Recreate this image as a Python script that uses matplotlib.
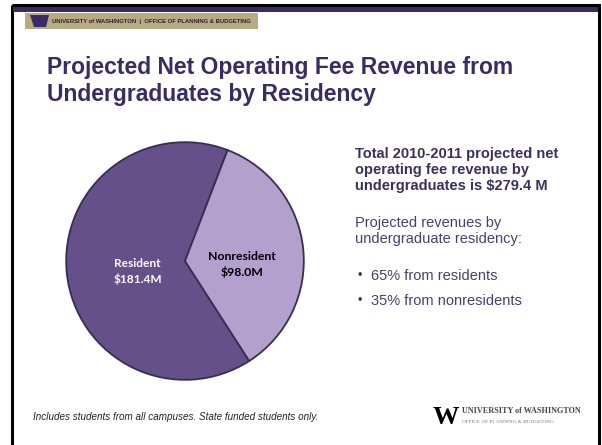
import matplotlib.pyplot as plt
from matplotlib.patches import Rectangle, Polygon

# data
categories = ["Resident", "Nonresident"]
revenue_m = [181.4, 98.0]
shares_pct = [65, 35]
total_m = 279.4
year_label = "2010-2011"

slice_colors = ["#665089", "#b3a0cc"]
label_colors = ["white", "black"]
label_radius = [0.40, 0.48]
label_drop = [0.05, 0.08]

W, H = 602, 445


def main() -> None:
    fig = plt.figure(figsize=(W / 100, H / 100), dpi=100)

    # overlay axes in pixel coordinates for slide decorations
    bg = fig.add_axes([0, 0, 1, 1])
    bg.set_xlim(0, W)
    bg.set_ylim(H, 0)
    bg.axis("off")

    # slide border and top bar
    bg.add_patch(Rectangle((12, 5), 587, 445, fill=False, edgecolor="black", linewidth=2.2))
    bg.add_patch(Rectangle((13, 7), 585, 5, color="#3a2a5e", linewidth=0))

    # header logo strip
    bg.add_patch(Rectangle((25, 13), 233, 16, color="#b8aa82", linewidth=0))
    bg.add_patch(Polygon([(30, 15), (49, 15), (46, 27), (34, 27)], closed=True,
                         color="#3a2a6a", linewidth=0))
    bg.text(52, 21, "UNIVERSITY of WASHINGTON  |  OFFICE OF PLANNING & BUDGETING",
            fontsize=4.2, fontweight="bold", color="#2a2030", va="center",
            family="Liberation Sans")

    # title
    purple = "#3b2b63"
    bg.text(47, 81, "Projected Net Operating Fee Revenue from\nUndergraduates by Residency",
            fontsize=16.5, fontweight="bold", color=purple, va="center", ha="left",
            family="Liberation Sans", linespacing=1.2)

    # right-hand text
    bg.text(355, 170,
            f"Total {year_label} projected net\noperating fee revenue by\n"
            f"undergraduates is ${total_m:.1f} M",
            fontsize=10.5, fontweight="bold", color="#3d2f5a", va="center",
            family="Liberation Sans", linespacing=1.22)
    bg.text(355, 231, "Projected revenues by\nundergraduate residency:",
            fontsize=10.5, color="#4b3e6b", va="center",
            family="Liberation Sans", linespacing=1.15)
    bullet_text = ["from residents", "from nonresidents"]
    for i, (pct, txt) in enumerate(zip(shares_pct, bullet_text)):
        y = 276 + i * 25
        bg.text(357, y, "\u2022", fontsize=9, color="#3d2f5a", va="center",
                family="Liberation Sans")
        bg.text(371, y, f"{pct}% {txt}", fontsize=10.5, color="#4b3e6b",
                va="center", family="Liberation Sans")

    # footnote
    bg.text(33, 417, "Includes students from all campuses. State funded students only.",
            fontsize=7.1, style="italic", color="#222222", va="center",
            family="Liberation Sans")

    # UW logo
    bg.text(433, 417, "W", fontsize=19, fontweight="bold", color="black",
            va="center", ha="left", family="Liberation Serif")
    bg.text(462, 411, "UNIVERSITY of WASHINGTON", fontsize=5.9, color="#444444",
            va="center", family="Liberation Serif", fontweight="bold")
    bg.text(462, 422, "OFFICE OF PLANNING & BUDGETING", fontsize=3.8, color="#777777",
            va="center", family="Liberation Serif")

    # pie chart
    cx, cy, r = 185, 261, 120
    ax = fig.add_axes([(cx - r) / W, (H - cy - r) / H, 2 * r / W, 2 * r / H])
    labels = [f"{c}\n${v:.1f}M" for c, v in zip(categories, revenue_m)]
    wedges, texts = ax.pie(revenue_m, labels=labels, colors=slice_colors,
                           startangle=69, counterclock=True, labeldistance=1.0,
                           wedgeprops=dict(edgecolor="#3a2d52", linewidth=1.3))
    for t, col, d, dy, fs in zip(texts, label_colors, label_radius, label_drop, [8.6, 8.8]):
        x, y = t.get_position()
        t.set_position((x * d, y * d - dy))
        t.set_ha("center")
        t.set_va("center")
        t.set_color(col)
        t.set_fontsize(fs)
        t.set_fontweight("bold")
        t.set_family("Lato")
        t.set_linespacing(1.4)
    ax.set_xlim(-1.01, 1.01)
    ax.set_ylim(-1.01, 1.01)
    ax.set_aspect("equal")

    fig.savefig("out.png", dpi=100)


if __name__ == "__main__":
    main()
